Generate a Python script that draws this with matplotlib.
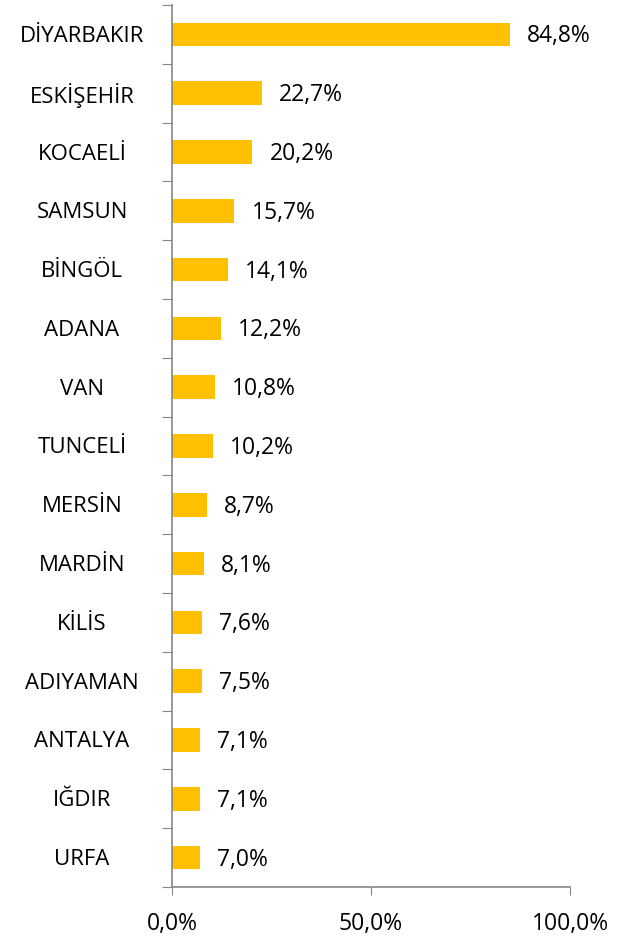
import matplotlib.pyplot as plt
from matplotlib.ticker import FuncFormatter

cities = ["DİYARBAKIR", "ESKİŞEHİR", "KOCAELİ", "SAMSUN", "BİNGÖL", "ADANA", "VAN",
          "TUNCELİ", "MERSİN", "MARDİN", "KİLİS", "ADIYAMAN", "ANTALYA", "IĞDIR", "URFA"]
values = [84.8, 22.7, 20.2, 15.7, 14.1, 12.2, 10.8, 10.2, 8.7, 8.1, 7.6, 7.5, 7.1, 7.1, 7.0]
xticks = [0, 50, 100]

plt.rcParams['font.family'] = ['Open Sans', 'DejaVu Sans']

W, H = 624, 939
fig = plt.figure(figsize=(W / 100, H / 100), dpi=100)
ax = fig.add_axes([172 / W, 1 - 887 / H, (570 - 172) / W, (887 - 5) / H])

pos = list(range(len(cities)))
ax.barh(pos, values, height=0.4, color='#FFC000')
ax.set_ylim(len(cities) - 0.5, -0.5)
ax.set_xlim(0, 100)

for y, v in zip(pos, values):
    ax.annotate(f"{v:.1f}%".replace('.', ','), (v, y), xytext=(17, -2),
                textcoords='offset pixels', va='center', ha='left', fontsize=16.5)

# centred category labels left of the axis
for y, name in zip(pos, cities):
    ax.annotate(name, (0, y), xycoords=('axes fraction', 'data'), xytext=(82 - 172, -2),
                textcoords='offset pixels', va='center', ha='center', fontsize=16)

ax.set_yticks([p - 0.5 for p in pos] + [len(cities) - 0.5])
ax.set_yticklabels([])
ax.set_xticks(xticks)
ax.xaxis.set_major_formatter(FuncFormatter(lambda v, _: f"{v:.1f}%".replace('.', ',')))
ax.tick_params(axis='x', labelsize=16.5, length=6, color='#868686', pad=12)
ax.tick_params(axis='y', length=7, color='#868686')

for s in ['top', 'right']:
    ax.spines[s].set_visible(False)
for s in ['left', 'bottom']:
    ax.spines[s].set_color('#868686')
    ax.spines[s].set_linewidth(1.2)

fig.savefig('out.png', dpi=100)
